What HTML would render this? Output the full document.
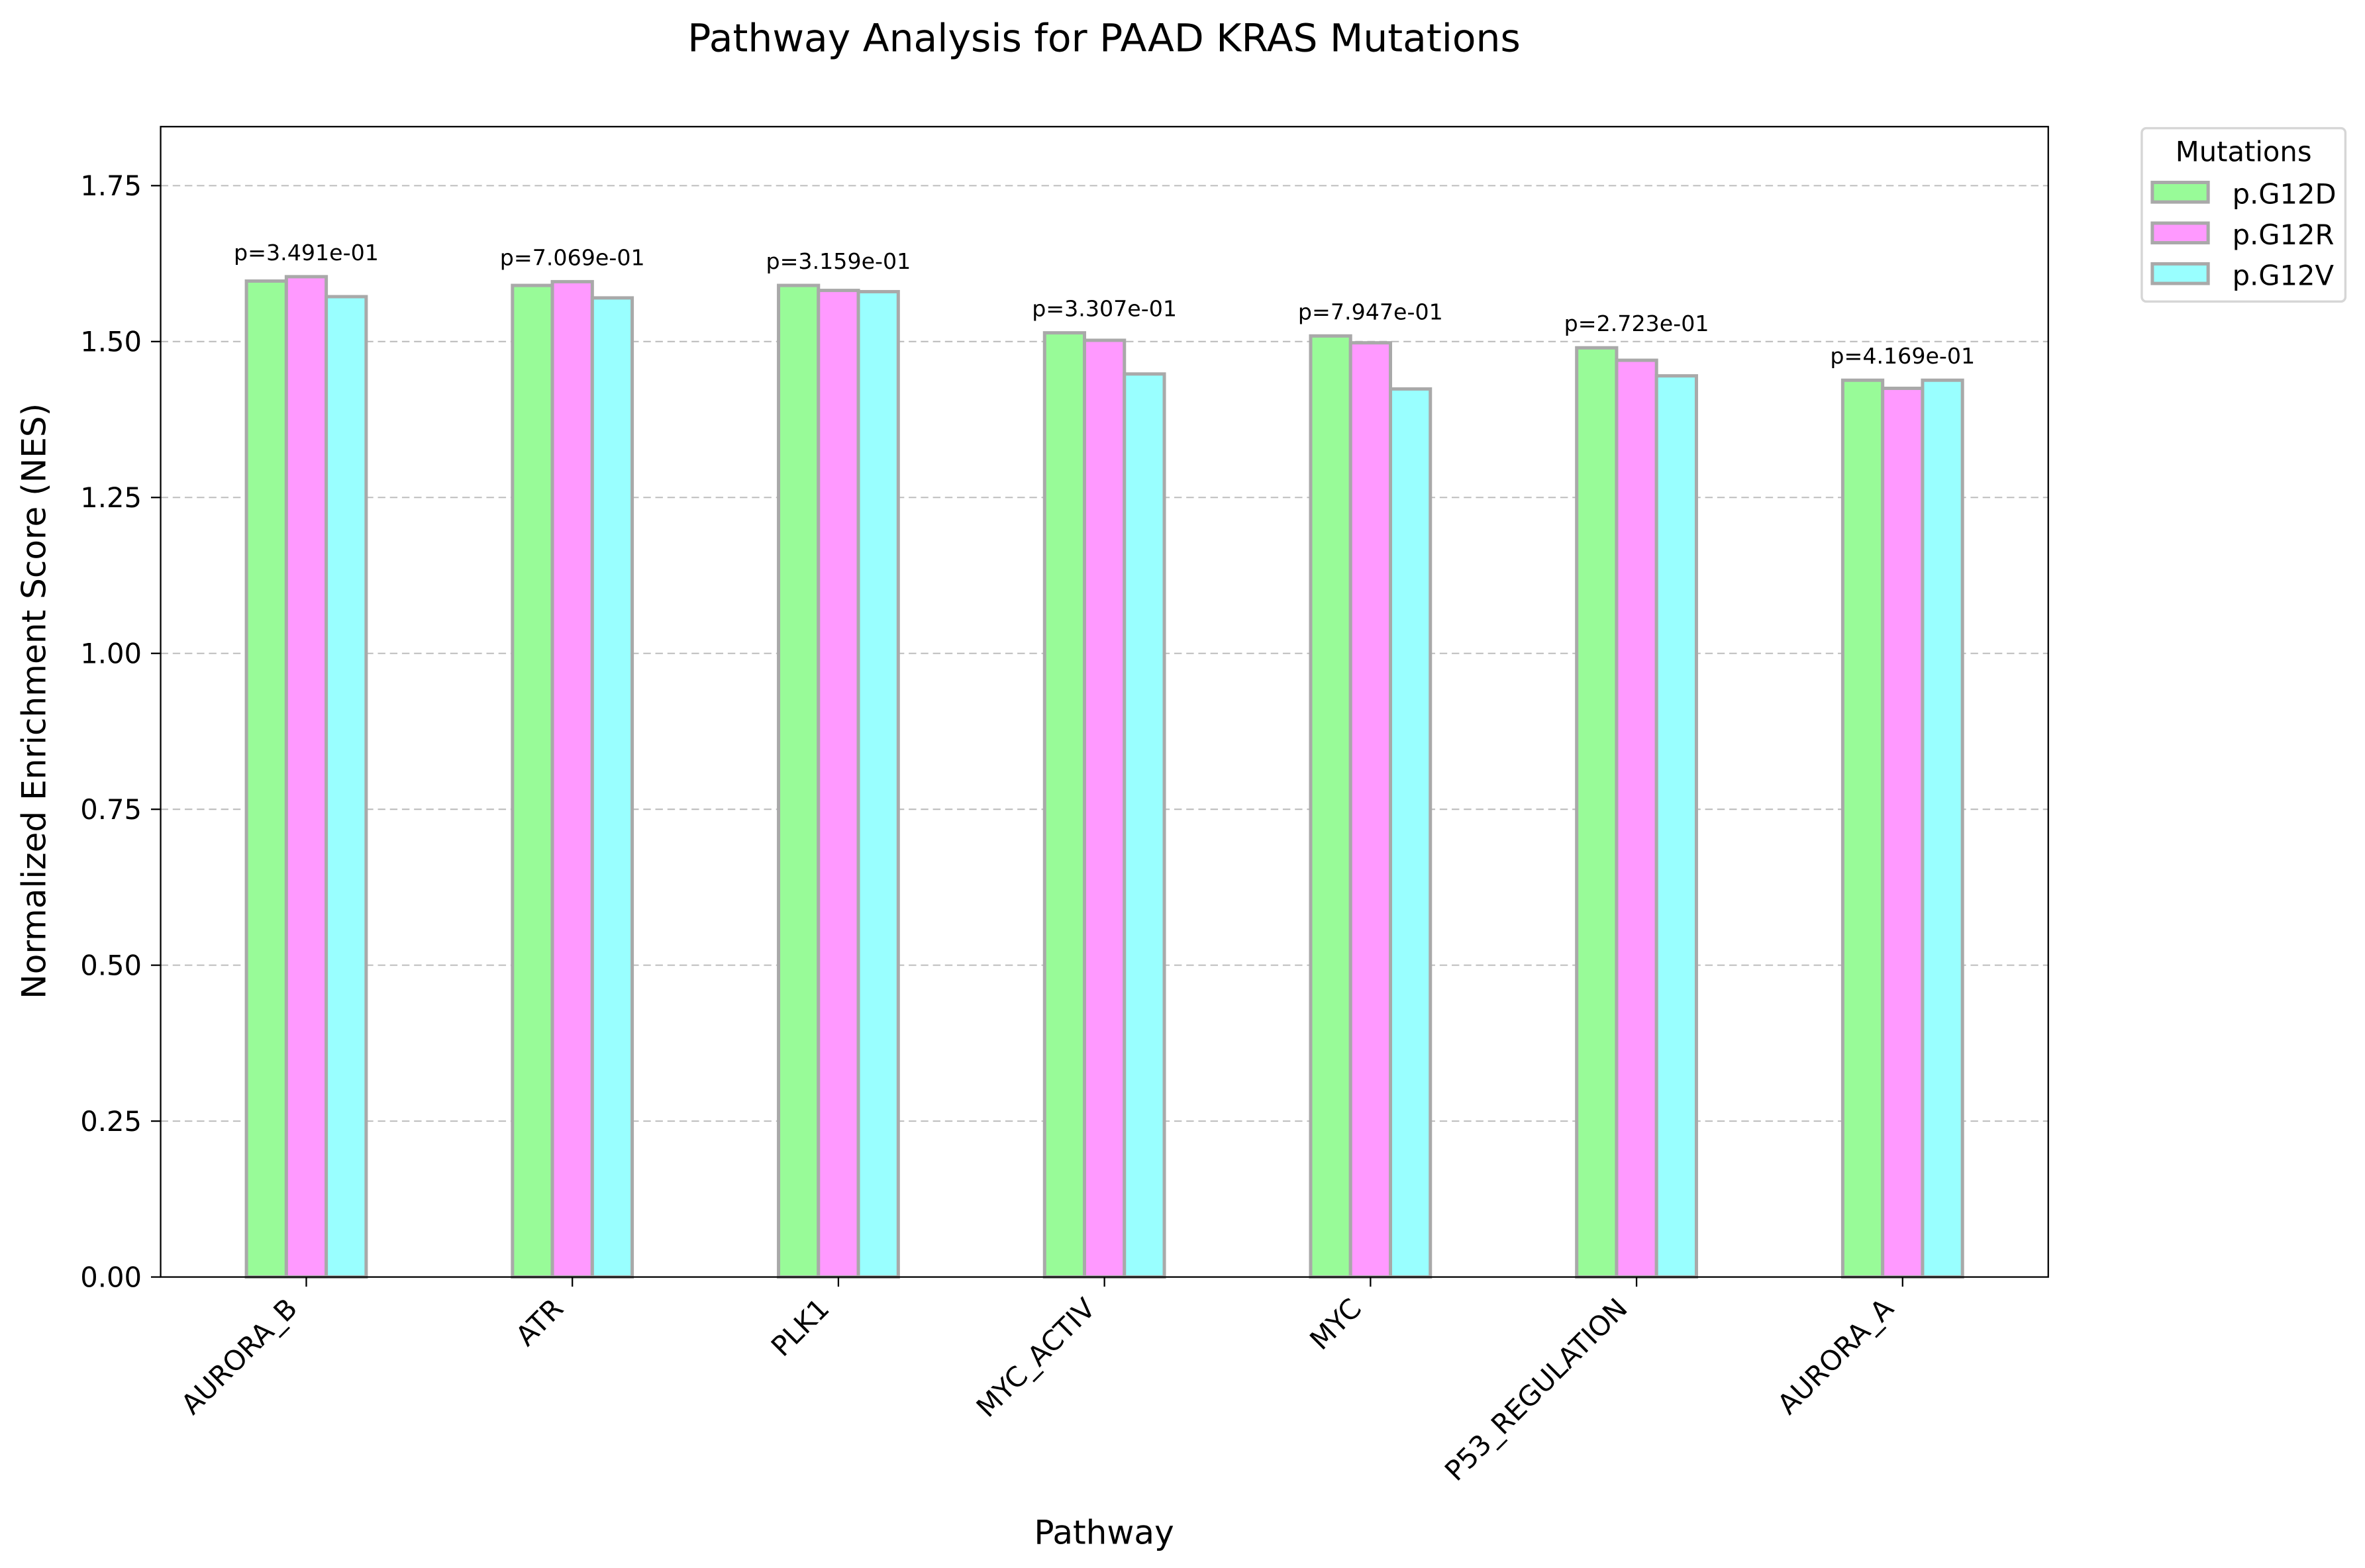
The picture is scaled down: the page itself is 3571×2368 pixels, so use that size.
<!DOCTYPE html>
<html><head><meta charset="utf-8"><style>
html,body{margin:0;padding:0;background:#fff}
svg{display:block;font-family:"DejaVu Sans","Liberation Sans",sans-serif}
</style></head><body>
<svg id="chart" width="3571" height="2368" viewBox="0 0 1568 1040" preserveAspectRatio="none" xmlns="http://www.w3.org/2000/svg">
<rect x="0" y="0" width="1568" height="1040" fill="#fff"/>
<g id="grid"></g>
<g id="bars"></g>
<g id="labels"></g>
<rect x="106.5" y="84" width="1251.5" height="763" fill="none" stroke="#000" stroke-width="1"/>
<g id="yaxis"></g>
<g id="xaxis"></g>
<text x="732" y="34" font-size="25.6" text-anchor="middle">Pathway Analysis for PAAD KRAS Mutations</text>
<text x="732" y="1024" font-size="22" text-anchor="middle">Pathway</text>
<text transform="translate(30,465) rotate(-90)" font-size="22" text-anchor="middle">Normalized Enrichment Score (NES)</text>
<g>
<rect x="1420" y="85" width="135" height="115" rx="3" fill="#fff" stroke="#d6d6d6" stroke-width="1.5"/>
<text x="1487.5" y="107" font-size="18.3" text-anchor="middle">Mutations</text>
<g><rect x="1427" y="121" width="37" height="13" fill="#98FB98" stroke="#a9a9a9" stroke-width="2.2"/><text x="1480" y="135" font-size="18.3">p.G12D</text></g>
<g><rect x="1427" y="148" width="37" height="13" fill="#FF99FF" stroke="#a9a9a9" stroke-width="2.2"/><text x="1480" y="162" font-size="18.3">p.G12R</text></g>
<g><rect x="1427" y="175" width="37" height="13" fill="#99FFFF" stroke="#a9a9a9" stroke-width="2.2"/><text x="1480" y="189" font-size="18.3">p.G12V</text></g>
</g>
</svg>
<script>
const categories = ["AURORA_B","ATR","PLK1","MYC_ACTIV","MYC","P53_REGULATION","AURORA_A"];
const g12d = [1.597,1.590,1.590,1.514,1.509,1.490,1.438];
const g12r = [1.604,1.596,1.582,1.502,1.498,1.470,1.425];
const g12v = [1.572,1.570,1.580,1.448,1.424,1.445,1.438];
const pvalues = ["p=3.491e-01","p=7.069e-01","p=3.159e-01","p=3.307e-01","p=7.947e-01","p=2.723e-01","p=4.169e-01"];
const yTicks = [0,0.25,0.5,0.75,1.0,1.25,1.5,1.75];

const NS="http://www.w3.org/2000/svg";
const L=106.5,R=1358,T=84,B=847;
const W=0.15;
const xmin=-0.075-0.3225, xmax=categories.length-1+0.375+0.3225;
const allv=g12d.concat(g12r,g12v);
const ymax=Math.max(...allv)*1.15;
const sx=v=>L+(v-xmin)/(xmax-xmin)*(R-L);
const sy=v=>B-v/ymax*(B-T);
function mk(tag,attrs,parent){const e=document.createElementNS(NS,tag);for(const k in attrs)e.setAttribute(k,attrs[k]);document.getElementById(parent).appendChild(e);return e;}

yTicks.forEach(t=>{
  const y=sy(t);
  if(t>0){const g=mk('line',{x1:L,x2:R,y1:y,y2:y,stroke:'#bdbdbd','stroke-dasharray':'5,3','stroke-width':0.9},'grid');
  
  }
  const tk=mk('line',{x1:L-6.4,x2:L,y1:y,y2:y,stroke:'#000'},'yaxis');
  
  
  const tx=mk('text',{x:L-12.5,y:y+6.5,'font-size':18.3,'text-anchor':'end'},'yaxis');
  tx.textContent=t.toFixed(2);
  
  
});

const series=[[g12d,'#98FB98','g12d'],[g12r,'#FF99FF','g12r'],[g12v,'#99FFFF','g12v']];
categories.forEach((c,i)=>{
  series.forEach((s,j)=>{
    const v=s[0][i];
    const x0=sx(i+j*W-W/2), x1=sx(i+j*W+W/2);
    const r=mk('rect',{x:x0,y:sy(v),width:x1-x0,height:sy(0)-sy(v),fill:s[1],stroke:'#a9a9a9','stroke-width':2.2},'bars');
    
    
  });
  const mx=Math.max(g12d[i],g12r[i],g12v[i]);
  const p=mk('text',{x:sx(i+W),y:sy(mx)-11,'font-size':14.6,'text-anchor':'middle'},'labels');
  p.textContent=pvalues[i];
  
  
  const tx=sx(i+W);
  const tk=mk('line',{x1:tx,x2:tx,y1:B,y2:B+6.4,stroke:'#000'},'xaxis');
  
  
  const lb=mk('text',{transform:`translate(${tx-5},${B+22}) rotate(-45)`,'font-size':18.3,'text-anchor':'end'},'xaxis');
  lb.textContent=c;
  
  
});
</script>
</body></html>
